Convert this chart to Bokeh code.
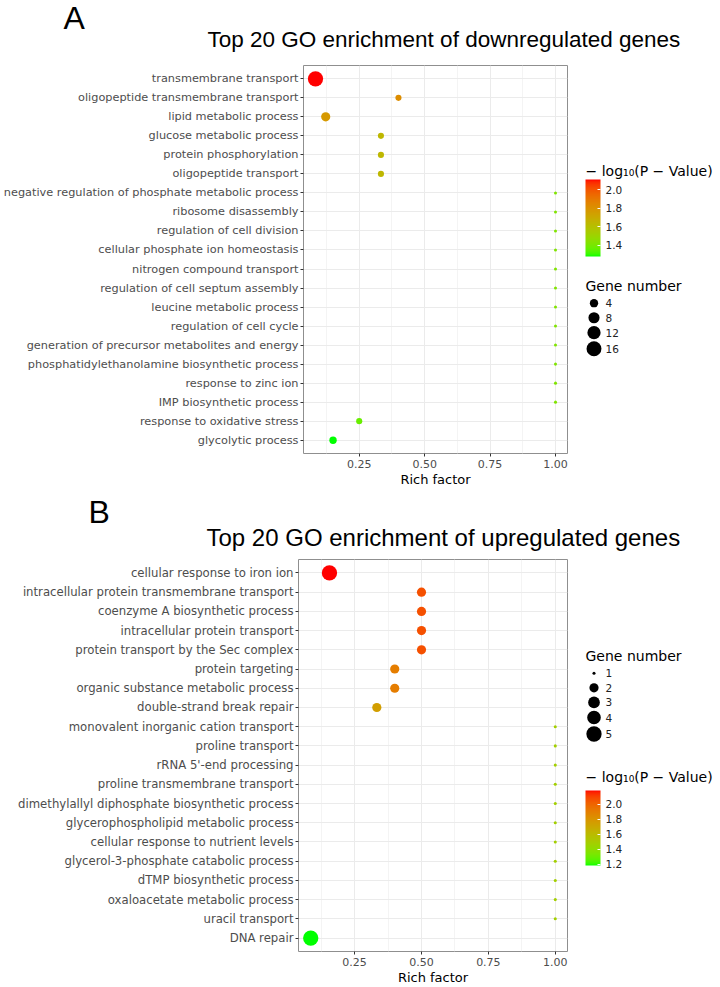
import numpy as np
from bokeh.plotting import figure
from bokeh.models import (Range1d, FactorRange, ColumnDataSource, LinearColorMapper, ColorBar,
                          FixedTicker, Label, PrintfTickFormatter)
from bokeh.layouts import column, row
from bokeh.embed import file_html
from bokeh.resources import INLINE
from bokeh.core.properties import value

# ---------------- data: panel A (downregulated) ----------------
terms_a = [
    "transmembrane transport",
    "oligopeptide transmembrane transport",
    "lipid metabolic process",
    "glucose metabolic process",
    "protein phosphorylation",
    "oligopeptide transport",
    "negative regulation of phosphate metabolic process",
    "ribosome disassembly",
    "regulation of cell division",
    "cellular phosphate ion homeostasis",
    "nitrogen compound transport",
    "regulation of cell septum assembly",
    "leucine metabolic process",
    "regulation of cell cycle",
    "generation of precursor metabolites and energy",
    "phosphatidylethanolamine biosynthetic process",
    "response to zinc ion",
    "IMP biosynthetic process",
    "response to oxidative stress",
    "glycolytic process",
]
rich_a = [0.083, 0.40, 0.122, 0.333, 0.333, 0.333, 1.0, 1.0, 1.0, 1.0, 1.0, 1.0, 1.0, 1.0,
          1.0, 1.0, 1.0, 1.0, 0.25, 0.15]
genes_a = [17, 2, 5, 2, 2, 2, 1, 1, 1, 1, 1, 1, 1, 1, 1, 1, 1, 1, 2, 3]
logp_a = [2.11, 1.82, 1.77, 1.64, 1.64, 1.64, 1.42, 1.42, 1.42, 1.42, 1.42, 1.42, 1.42, 1.42,
          1.42, 1.42, 1.42, 1.42, 1.37, 1.28]
size_breaks_a = [4, 8, 12, 16]
color_ticks_a = [1.4, 1.6, 1.8, 2.0]

# ---------------- data: panel B (upregulated) ----------------
terms_b = [
    "cellular response to iron ion",
    "intracellular protein transmembrane transport",
    "coenzyme A biosynthetic process",
    "intracellular protein transport",
    "protein transport by the Sec complex",
    "protein targeting",
    "organic substance metabolic process",
    "double-strand break repair",
    "monovalent inorganic cation transport",
    "proline transport",
    "rRNA 5'-end processing",
    "proline transmembrane transport",
    "dimethylallyl diphosphate biosynthetic process",
    "glycerophospholipid metabolic process",
    "cellular response to nutrient levels",
    "glycerol-3-phosphate catabolic process",
    "dTMP biosynthetic process",
    "oxaloacetate metabolic process",
    "uracil transport",
    "DNA repair",
]
rich_b = [0.156, 0.5, 0.5, 0.5, 0.5, 0.4, 0.4, 0.333, 1.0, 1.0, 1.0, 1.0, 1.0, 1.0, 1.0, 1.0,
          1.0, 1.0, 1.0, 0.086]
genes_b = [5, 2, 2, 2, 2, 2, 2, 2, 1, 1, 1, 1, 1, 1, 1, 1, 1, 1, 1, 5]
logp_b = [2.18, 2.06, 2.06, 2.06, 2.06, 1.90, 1.90, 1.75, 1.48, 1.48, 1.48, 1.48, 1.48, 1.48,
          1.48, 1.48, 1.48, 1.48, 1.48, 1.18]
size_breaks_b = [1, 2, 3, 4, 5]
color_ticks_b = [1.2, 1.4, 1.6, 1.8, 2.0]

x_ticks = [0.25, 0.50, 0.75, 1.00]
title_a = "Top 20 GO enrichment of downregulated genes"
title_b = "Top 20 GO enrichment of upregulated genes"
color_title = "\u2212 log\u2081\u2080(P \u2212 Value)"
size_title = "Gene number"

# ---------------- helpers ----------------
AX_FONT = "DejaVu Sans"
TITLE_FONT = "Liberation Sans"
PX_PER_MM = 2.45
PX_STROKE = 0.6
TOTAL_W = 720
MAIN_W = 572
LEG_W = TOTAL_W - MAIN_W

_M = np.array([[0.4124564, 0.3575761, 0.1804375],
               [0.2126729, 0.7151522, 0.0721750],
               [0.0193339, 0.1191920, 0.9503041]])
_WP = np.array([0.95047, 1.0, 1.08883])


def hex_to_lab(h):
    c = np.array([int(h[i:i + 2], 16) for i in (1, 3, 5)], float) / 255
    c = np.where(c > 0.04045, ((c + 0.055) / 1.055) ** 2.4, c / 12.92)
    t = (_M @ c) / _WP
    d = 6 / 29
    f = np.where(t > d ** 3, np.cbrt(t), t / (3 * d * d) + 4 / 29)
    return np.array([116 * f[1] - 16, 500 * (f[0] - f[1]), 200 * (f[1] - f[2])])


def lab_to_hex(lab):
    L, a, b = lab
    fy = (L + 16) / 116
    f = np.array([fy + a / 500, fy, fy - b / 200])
    d = 6 / 29
    t = np.where(f > d, f ** 3, 3 * d * d * (f - 4 / 29))
    c = np.linalg.solve(_M, t * _WP)
    c = np.clip(c, 0, 1)
    c = np.where(c <= 0.0031308, 12.92 * c, 1.055 * c ** (1 / 2.4) - 0.055)
    c = np.clip(c, 0, 1)
    return "#%02x%02x%02x" % tuple(int(round(v * 255)) for v in c)


lab_lo, lab_hi = hex_to_lab("#00ff00"), hex_to_lab("#ff0000")
PALETTE = [lab_to_hex(lab_lo + (lab_hi - lab_lo) * t) for t in np.linspace(0, 1, 256)]


def dot_size(n, lo, hi):
    n = np.asarray(n, float)
    return list(PX_PER_MM * (1 + 5 * np.sqrt((n - lo) / (hi - lo))) + PX_STROKE)


def header_fig(h, letter, lx, l_mid, title, tx, t_mid, tsize):
    p = figure(width=TOTAL_W, height=h, x_range=Range1d(0, TOTAL_W), y_range=Range1d(0, h),
               output_backend="svg", toolbar_location=None, min_border=0,
               x_axis_location=None, y_axis_location=None)
    p.grid.visible = False
    p.outline_line_color = None
    p.add_layout(Label(x=lx, y=h - l_mid, text=letter, text_font=TITLE_FONT,
                       text_font_size="32px", text_color="black", text_baseline="middle"))
    p.add_layout(Label(x=tx, y=h - t_mid, text=title, text_font=TITLE_FONT,
                       text_font_size=tsize, text_color="black", text_baseline="middle"))
    return p


def main_fig(terms, rich, genes, logp, mapper, h, left, top, bottom, lab_px, tick_px):
    span = max(rich) - min(rich)
    xr = Range1d(min(rich) - 0.05 * span, max(rich) + 0.05 * span)
    yr = FactorRange(factors=list(reversed(terms)), range_padding=0.2,
                     range_padding_units="absolute")
    p = figure(width=MAIN_W, height=h, x_range=xr, y_range=yr, output_backend="svg",
               toolbar_location=None, min_border_left=left, min_border_right=5,
               min_border_top=top, min_border_bottom=bottom)
    src = ColumnDataSource(dict(term=terms, rich=rich, genes=genes, logp=logp,
                                size=dot_size(genes, min(genes), max(genes))))
    p.scatter("rich", "term", source=src, size="size", marker="circle",
              fill_color={"field": "logp", "transform": mapper}, line_color=None)
    step = x_ticks[1] - x_ticks[0]
    p.xaxis.ticker = FixedTicker(ticks=x_ticks, minor_ticks=[t - step / 2 for t in x_ticks])
    p.xaxis.formatter = PrintfTickFormatter(format="%.2f")
    p.xaxis.axis_label = "Rich factor"
    p.xaxis.axis_label_text_font = AX_FONT
    p.xaxis.axis_label_text_font_size = "13px"
    p.xaxis.axis_label_text_font_style = "normal"
    p.xaxis.axis_label_text_color = "black"
    p.xaxis.axis_label_standoff = 1
    p.xaxis.major_label_text_font_size = tick_px
    p.yaxis.major_label_text_font_size = lab_px
    for ax in (p.xaxis, p.yaxis):
        ax.major_label_text_font = AX_FONT
        ax.major_label_text_color = "#4d4d4d"
        ax.axis_line_color = None
        ax.major_tick_line_color = "#333333"
        ax.major_tick_out = 3
        ax.major_tick_in = 0
        ax.minor_tick_line_color = None
        ax.major_label_standoff = 2
    p.xgrid.grid_line_color = "#ebebeb"
    p.xgrid.minor_grid_line_color = "#f4f4f4"
    p.ygrid.grid_line_color = "#ebebeb"
    p.outline_line_color = "#8f8f8f"
    p.outline_line_width = 1
    return p


def legend_fig(h, top, bottom, mapper, cticks, cb_title_mid, bar_top, bar_h, breaks, lo, hi,
               sz_title_mid, first_top):
    # frame borders match the neighbouring plot, data y = pixels from the figure bottom
    p = figure(width=LEG_W, height=h, x_range=Range1d(0, LEG_W), y_range=Range1d(bottom, h - top),
               output_backend="svg", toolbar_location=None,
               min_border_left=0, min_border_right=0, min_border_top=top,
               min_border_bottom=bottom, x_axis_location=None, y_axis_location=None)
    p.grid.visible = False
    p.outline_line_color = None
    # colour bar
    p.add_layout(Label(x=13, y=h - cb_title_mid, text=color_title, text_font=AX_FONT,
                       text_font_size="14px", text_color="black", text_baseline="middle"))
    cb = ColorBar(color_mapper=mapper, ticker=FixedTicker(ticks=cticks),
                  formatter=PrintfTickFormatter(format="%.1f"), width=15, height=bar_h,
                  location=(13, h - (bar_top + bar_h) - bottom), padding=0, label_standoff=5,
                  major_label_text_font=AX_FONT, major_label_text_font_size="10.5px",
                  major_label_text_color="#222222", major_tick_line_color="white",
                  major_tick_in=3, major_tick_out=0, bar_line_color=None,
                  border_line_color=None, background_fill_alpha=0)
    p.add_layout(cb)
    # size legend
    p.add_layout(Label(x=13, y=h - sz_title_mid, text=size_title, text_font=AX_FONT,
                       text_font_size="14px", text_color="black", text_baseline="middle"))
    d = dot_size(breaks, lo, hi)
    kh = [max(14.6, v + 2.0) for v in d]
    tops = [first_top]
    for i in range(1, len(d)):
        tops.append(tops[-1] + (kh[i - 1] + kh[i]) / 2)
    ys = [h - t for t in tops]
    src = ColumnDataSource(dict(x=[21.5] * len(d), y=ys, s=d, lab=[str(b) for b in breaks],
                                tx=[33] * len(d)))
    p.scatter("x", "y", size="s", source=src, marker="circle", fill_color="black",
              line_color=None)
    p.text("tx", "y", text="lab", source=src, text_baseline="middle",
           text_font=value(AX_FONT), text_font_size=value("10.5px"), text_color="#222222")
    return p


# ---------------- panel A ----------------
mapper_a = LinearColorMapper(palette=PALETTE, low=min(logp_a), high=max(logp_a))
head_a = header_fig(58, "A", 63, 17.5, title_a, 207, 39, "22.5px")
main_a = main_fig(terms_a, rich_a, genes_a, logp_a, mapper_a, 432, 303, 7, 37, "11.3px", "11px")
leg_a = legend_fig(432, 7, 37, mapper_a, color_ticks_a, 112, 121, 77, size_breaks_a,
                   min(genes_a), max(genes_a), 227.5, 244.7)

# ---------------- panel B ----------------
mapper_b = LinearColorMapper(palette=PALETTE, low=min(logp_b), high=max(logp_b))
head_b = header_fig(62, "B", 88, 21.5, title_b, 206, 47, "24px")
main_b = main_fig(terms_b, rich_b, genes_b, logp_b, mapper_b, 435, 298, 7, 36, "11.7px", "11px")
leg_b = legend_fig(435, 7, 36, mapper_b, color_ticks_b, 224.5, 238, 75, size_breaks_b,
                   min(genes_b), max(genes_b), 103, 120.7)

layout = column(head_a, row(main_a, leg_a), head_b, row(main_b, leg_b))
p = layout
open("out.html", "w").write(file_html(p, INLINE))
